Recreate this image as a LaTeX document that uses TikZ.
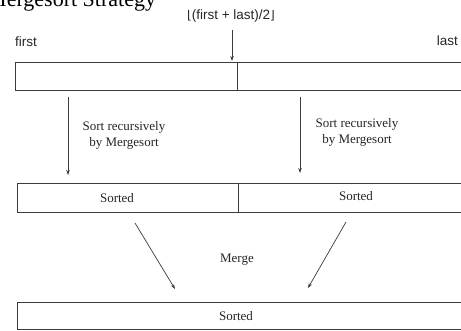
\documentclass[tikz,border=0pt]{standalone}
\usepackage{fontspec}
\setmainfont{Liberation Serif}
\newfontfamily\labelsans{Liberation Sans}
\newfontfamily\symsans{DejaVu Sans}
\usetikzlibrary{arrows.meta}
\definecolor{linegray}{HTML}{3C3C3C}
\definecolor{inkgray}{HTML}{262626}
\tikzset{
  cell/.style={draw=linegray, line width=0.7pt, inner sep=0pt, outer sep=0pt,
    anchor=north west, text=inkgray, font=\fontsize{12.5}{14}\selectfont},
  seriflabel/.style={text=inkgray, align=center, inner sep=0pt,
    font=\fontsize{13}{16}\selectfont},
  sanslabel/.style={text=inkgray, inner sep=0pt,
    font=\labelsans\fontsize{13.5}{15}\selectfont},
  flow/.style={draw=linegray, line width=0.7pt, -{Stealth[length=5pt,width=3.5pt]}},
}
\begin{document}
\begin{tikzpicture}[x=1pt,y=-1pt]
  \useasboundingbox (0,0) rectangle (461,330);
  \clip (0,0) rectangle (461,330);
  \fill[white] (0,0) rectangle (461,330);

  % heading, partly cut by the top edge
  \node[anchor=base west, inner sep=0pt, text=black,
        font=\fontsize{22}{24}\selectfont] (title) at (-13,6) {Mergesort Strategy};

  % array to be sorted
  \node[cell, minimum width=222pt, minimum height=28pt] (topL) at (15,62) {};
  \node[cell, minimum width=228pt, minimum height=28pt] (topR) at (237,62) {};
  \node[sanslabel, anchor=base west] (first) at (15,46) {first};
  \node[sanslabel, anchor=base east] (last) at (458,45) {last};
  \node[sanslabel] (mid) at (231,16)
    {{\symsans\fontsize{12}{13}\selectfont ⌊}(first + last)/2{\symsans\fontsize{12}{13}\selectfont ⌋}};
  \coordinate (midtip) at (232,61);
  \coordinate (midstart) at (232,30);
  \draw[flow] (midstart) -- (midtip);

  % recursive calls
  \coordinate (lstart) at (68,97);
  \coordinate (lend) at (68,175);
  \coordinate (rstart) at (300,97);
  \coordinate (rend) at (300,173);
  \draw[flow] (lstart) -- (lend);
  \draw[flow] (rstart) -- (rend);
  \node[seriflabel] (lsort) at (124,135) {Sort recursively\\by Mergesort};
  \node[seriflabel] (rsort) at (357,132) {Sort recursively\\by Mergesort};

  % sorted halves
  \node[cell, minimum width=221pt, minimum height=29pt] (midL) at (17,183) {};
  \node[cell, minimum width=226pt, minimum height=29pt] (midR) at (238,183) {};
  \node[seriflabel] (sl) at (117,198) {Sorted};
  \node[seriflabel] (sr) at (356,196) {Sorted};

  % merge step
  \coordinate (mls) at (135,223);
  \coordinate (mle) at (175,289);
  \coordinate (mrs) at (346,222);
  \coordinate (mre) at (308,288);
  \draw[flow] (mls) -- (mle);
  \draw[flow] (mrs) -- (mre);
  \node[seriflabel] (merge) at (237,260) {Merge};

  % merged result
  \node[cell, minimum width=447pt, minimum height=27pt] (bottom) at (17,302) {};
  \node[seriflabel] (sb) at (236,316) {Sorted};
\end{tikzpicture}
\end{document}
